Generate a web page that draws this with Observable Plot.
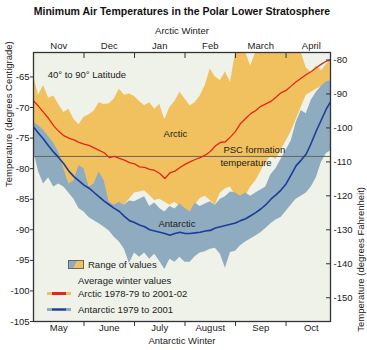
<!DOCTYPE html>
<html><head><meta charset="utf-8">
<script src="https://cdn.jsdelivr.net/npm/d3@7"></script>
<script src="https://cdn.jsdelivr.net/npm/@observablehq/plot@0.6"></script>
<style>body{margin:0;background:#fff} #chart{width:367px;height:350px}</style>
</head><body><div id="chart"></div>
<script>
// ---- data (x in months from start of winter: May / Nov = 0) ----
const monthX = [0,0.1,0.2,0.3,0.4,0.5,0.6,0.7,0.8,0.9,1,1.1,1.2,1.3,1.4,1.5,1.6,1.7,1.8,1.9,2,2.1,2.2,2.3,2.4,2.5,2.6,2.7,2.8,2.9,3,3.1,3.2,3.3,3.4,3.5,3.6,3.7,3.8,3.9,4,4.1,4.2,4.3,4.4,4.5,4.6,4.7,4.8,4.9,5,5.1,5.2,5.3,5.4,5.5,5.6,5.7,5.8,5.9];
const arcticMax = [-64.8,-68.0,-66.4,-68.5,-68.1,-69.5,-70.8,-70.3,-71.9,-72.8,
 -71.6,-71.2,-70.6,-69.2,-69.5,-69.4,-68.6,-67.0,-68.0,-67.8,
 -68.2,-69.0,-69.7,-69.2,-70.3,-69.5,-72.0,-70.0,-69.0,-67.5,
 -68.6,-69.7,-69.2,-68.1,-66.4,-63.7,-65.0,-65.6,-64.2,-65.9,
 -61,-61,-61,-63.2,-61,-61,-61,-61,-61,-61,
 -61,-61,-61,-61,-63.5,-64.3,-63.2,-64.0,-63.0,-62.0];
const arcticMean = [-68.9,-69.8,-70.8,-71.8,-73.0,-73.9,-74.6,-75.0,-75.3,-75.7,
 -76.0,-76.2,-76.6,-77.0,-77.4,-78.2,-78.0,-78.3,-78.6,-79.0,
 -79.2,-79.7,-79.8,-80.1,-80.3,-80.8,-81.6,-80.7,-80.4,-79.8,
 -79.3,-78.9,-78.5,-78.2,-77.8,-77.2,-76.3,-75.7,-75.6,-74.8,
 -73.9,-72.6,-71.8,-71.0,-70.5,-69.8,-69.4,-69.0,-68.3,-67.6,
 -67.2,-66.5,-65.8,-65.2,-64.6,-64.1,-63.5,-62.9,-62.4,-62.2];
const arcticMin = [-74,-75,-76,-77,-78.5,-80,-81.5,-83,-83.5,-84,
 -84,-84.5,-85,-85.5,-86,-86,-86.5,-85.5,-86,-85,
 -84,-83.8,-83.6,-84.4,-85.2,-85.0,-85.5,-86.0,-85.5,-86.2,
 -87.3,-88.1,-86,-84.9,-84.5,-85.2,-86,-84,-83.3,-83,
 -84.5,-85.5,-84.5,-83,-82,-80.5,-79,-78,-78.5,-77,
 -75.5,-74,-72,-70,-68,-67.5,-67,-66.5,-66,-65.5];
const antarcticMax = [-72.4,-73,-73.7,-74.8,-75.8,-77.3,-80,-82.5,-82,-79.5,
 -80,-83,-82.5,-80.5,-82,-85.5,-86,-85.5,-86,-85.3,
 -85.4,-85,-84.6,-86.2,-85.6,-86.5,-87.1,-86.2,-86.6,-85.8,
 -86.5,-87.1,-85.6,-86.2,-85.8,-85.4,-86,-85,-84.6,-83.8,
 -84,-84.5,-84,-84.5,-84,-83.5,-83,-81,-80,-78.5,
 -77,-75.5,-72.5,-70.5,-71,-68.8,-67.5,-66.5,-65.8,-65.6];
const antarcticMean = [-73.2,-74.2,-75.2,-76.3,-77.3,-78.2,-79.2,-80.4,-81.3,-82.0,
 -82.7,-83.2,-83.9,-84.6,-85.3,-85.9,-86.5,-87.0,-87.8,-88.5,
 -88.8,-89.2,-89.5,-90.0,-90.2,-90.4,-90.6,-90.9,-90.6,-90.4,
 -90.6,-90.6,-90.5,-90.4,-90.2,-90.1,-89.7,-89.5,-89.3,-89.1,
 -88.9,-88.5,-88.2,-87.7,-87.2,-86.6,-85.9,-85.0,-84.3,-83.5,
 -82.5,-81.0,-79.5,-78.6,-77.6,-75.8,-73.8,-72.0,-70.2,-68.8];
const antarcticMin = [-77,-80.5,-82.5,-81.5,-83,-82.5,-83,-84,-85,-86.5,
 -87.1,-88,-88.5,-89,-89.6,-90.2,-91.2,-92,-93.2,-95.5,
 -93.8,-94.5,-93.8,-94.8,-94,-95.2,-96.5,-94.8,-95.3,-94.5,
 -95.3,-95.3,-94.4,-93.8,-93.6,-93.2,-93.0,-94,-96.3,-93.7,
 -93.5,-92.6,-92,-91.5,-91,-90.5,-89.8,-89,-88.4,-88,
 -87,-86,-85,-84.5,-84,-83,-81.5,-79,-77.5,-77];
const pscTemp = -78;
const arcticMonths = ["Nov","Dec","Jan","Feb","March","April"];
const antarcticMonths = ["May","June","July","August","Sep","Oct"];
const monthCenters = [0.5,1.5,2.5,3.5,4.5,5.5];
const monthBounds = [1,2,3,4,5];
const celsiusTicks = [-65,-70,-75,-80,-85,-90,-95,-100,-105];
const fahrenheitTicks = [-80,-90,-100,-110,-120,-130,-140,-150];
const startNotes = [
  {text:"40° to 90° Latitude", m:0.28, t:-64.6},
  {text:"PSC formation", m:3.76, t:-77.0},
  {text:"temperature", m:3.70, t:-79.1}
];
const middleNotes = [
  {text:"Arctic", m:2.81, t:-74.4},
  {text:"Antarctic", m:2.84, t:-89.0}
];
const title = "Minimum Air Temperatures in the Polar Lower Stratosphere";

// ---- styling ----
const FONT = "'Liberation Sans', Arial, Helvetica, sans-serif";
const BG = "#eef2e8", ORANGE = "#f1c15f", BLUEBAND = "#8eabbf", RED = "#e3261c", NAVY = "#1b3d98", INK = "#222";
const toC = f => (f - 32) / 1.8, toF = c => c * 1.8 + 32;

const data = monthX.map((m, i) => ({m, arcMin: arcticMin[i], arcMax: arcticMax[i], arcMean: arcticMean[i],
  antMin: antarcticMin[i], antMax: antarcticMax[i], antMean: antarcticMean[i]}));

const chart = Plot.plot({
  width: 367, height: 350,
  marginTop: 52, marginBottom: 29, marginLeft: 33, marginRight: 37,
  style: {fontFamily: FONT, fontSize: "9.5px", color: INK, background: "#fff", overflow: "visible"},
  x: {domain: [0, 5.88]},
  y: {domain: [-105, -61]},
  marks: [
    Plot.frame({fill: BG, stroke: null}),
    Plot.areaY(data, {x: "m", y1: "arcMin", y2: "arcMax", fill: ORANGE, clip: true}),
    Plot.areaY(data, {x: "m", y1: "antMin", y2: "antMax", fill: BLUEBAND, clip: true}),
    Plot.ruleY([pscTemp], {stroke: "#66655a", strokeWidth: 1}),
    Plot.lineY(data, {x: "m", y: "arcMean", stroke: RED, strokeWidth: 1.3, clip: true}),
    Plot.lineY(data, {x: "m", y: "antMean", stroke: NAVY, strokeWidth: 1.6, clip: true}),
    Plot.text(startNotes, {x: "m", y: "t", text: "text", textAnchor: "start", fill: INK, fontSize: 9.5}),
    Plot.text(middleNotes, {x: "m", y: "t", text: "text", textAnchor: "middle", fill: INK, fontSize: 9.5}),
    Plot.frame({stroke: "#333", strokeWidth: 1.3}),
    // left (Celsius)
    Plot.axisY({anchor: "left", ticks: celsiusTicks, tickSize: 3, tickPadding: 1, tickFormat: d => String(d), label: null, stroke: "#333"}),
    // right (Fahrenheit)
    Plot.axisY({anchor: "right", ticks: fahrenheitTicks.map(toC), tickSize: -5, tickPadding: 8,
      tickFormat: c => String(Math.round(toF(c))), label: null, stroke: "#333"}),
    // top (Arctic months)
    Plot.axisX({anchor: "top", ticks: monthCenters, tickSize: 0, tickPadding: 4,
      tickFormat: d => arcticMonths[monthCenters.indexOf(d)], label: null}),
    Plot.axisX({anchor: "top", ticks: monthBounds, tickSize: -5, tickFormat: () => "", label: null, stroke: "#333"}),
    // bottom (Antarctic months)
    Plot.axisX({anchor: "bottom", ticks: monthCenters, tickSize: 0, tickPadding: 3,
      tickFormat: d => antarcticMonths[monthCenters.indexOf(d)], label: null}),
    Plot.axisX({anchor: "bottom", ticks: monthBounds, tickSize: 5, tickFormat: () => "", label: null, stroke: "#333"}),
    // titles
    Plot.text([title], {frameAnchor: "top", dy: -45, fontWeight: "bold", fontSize: 10.5, fill: "#111"}),
    Plot.text(["Arctic Winter"], {frameAnchor: "top", dy: -25, fill: INK}),
    Plot.text(["Antarctic Winter"], {frameAnchor: "bottom", dy: 22, fill: INK}),
    Plot.text(["Temperature (degrees Centigrade)"], {frameAnchor: "left", dx: -25, rotate: -90, fill: INK}),
    Plot.text(["Temperature (degrees Fahrenheit)"], {frameAnchor: "right", dx: 30, rotate: -90, fill: INK})
  ]
});
document.getElementById("chart").appendChild(chart);

// ---- legend (drawn inside the plot area, bottom-left) ----
const svg = d3.select(chart);
const lg = svg.append("g").attr("font-family", FONT).attr("font-size", 9.5).attr("fill", INK).attr("text-anchor", "start");
lg.append("path").attr("d", "M68.5,260.5 h9 l-4,8 h-5 z").attr("fill", BLUEBAND);
lg.append("path").attr("d", "M77.5,260.5 h6 v8 h-10 z").attr("fill", ORANGE);
lg.append("rect").attr("x", 68.5).attr("y", 260.5).attr("width", 15).attr("height", 8).attr("fill", "none").attr("stroke", "#666").attr("stroke-width", 1);
lg.append("text").attr("x", 88).attr("y", 264.5).attr("dy", "0.32em").text("Range of values");
lg.append("text").attr("x", 78).attr("y", 280.5).attr("dy", "0.32em").text("Average winter values");
lg.append("rect").attr("x", 47).attr("y", 292).attr("width", 24).attr("height", 3).attr("fill", ORANGE);
lg.append("rect").attr("x", 52).attr("y", 292).attr("width", 14).attr("height", 3).attr("fill", RED);
lg.append("text").attr("x", 78).attr("y", 293.5).attr("dy", "0.32em").text("Arctic 1978-79 to 2001-02");
lg.append("rect").attr("x", 47).attr("y", 308).attr("width", 24).attr("height", 3).attr("fill", BLUEBAND);
lg.append("rect").attr("x", 52).attr("y", 308.5).attr("width", 14).attr("height", 2).attr("fill", NAVY);
lg.append("text").attr("x", 78).attr("y", 309.5).attr("dy", "0.32em").text("Antarctic 1979 to 2001");
</script></body></html>
